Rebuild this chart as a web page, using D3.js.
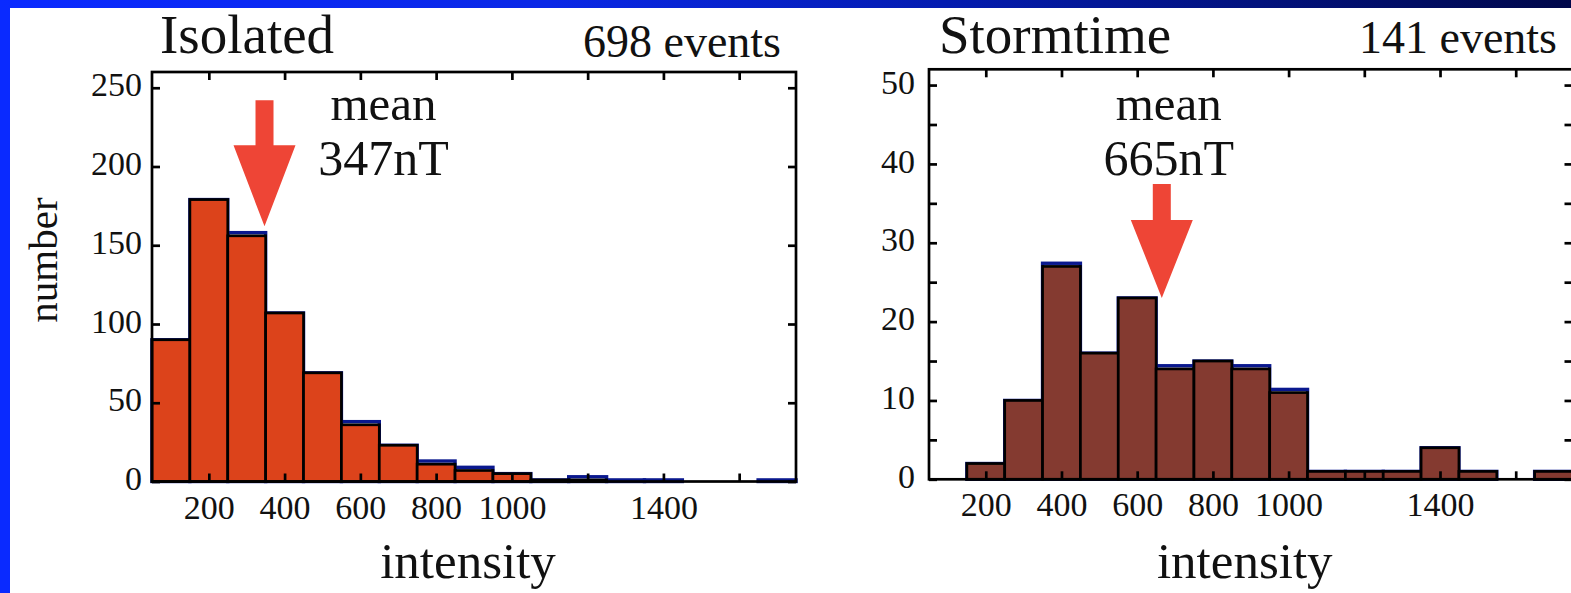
<!DOCTYPE html>
<html>
<head>
<meta charset="utf-8">
<script src="https://cdn.jsdelivr.net/npm/d3@7/dist/d3.min.js"></script>
<style>
  html, body { margin: 0; padding: 0; overflow: hidden; background: #ffffff; }
  svg { display: block; }
</style>
</head>
<body>
<script>
// Histogram bins: 100 nT wide, starting at 50 nT
const binStarts = [50, 150, 250, 350, 450, 550, 650, 750, 850, 950, 1050, 1150, 1250, 1350, 1450, 1550, 1650];
const binWidth = 100;
const xDomain = [50, 1750];

// Isolated substorms (698 events)
const isolatedCounts = [90, 179, 156, 107, 69, 36, 23, 11, 7, 5, 1, 1, 0, 0, 0, 0, 0];
const isolatedTotals = [90, 179, 158, 107, 69, 38, 23, 13, 9, 5, 1, 3, 1, 1, 0, 0, 1];

// Stormtime substorms (141 events)
const stormCounts = [0, 2, 10, 27, 16, 23, 14, 15, 14, 11, 1, 1, 1, 4, 1, 0, 1];
const stormTotals = [0, 2, 10, 27.4, 16, 23, 14.4, 15, 14.4, 11.4, 1, 1, 1, 4, 1, 0, 1];

// Axis ticks
const xTickValues = [200, 400, 600, 800, 1000, 1200, 1400, 1600];
const xTickLabels = ["200", "400", "600", "800", "1000", "", "1400", ""];
const isolatedYTicks = [0, 50, 100, 150, 200, 250];
const isolatedYLabels = ["0", "50", "100", "150", "200", "250"];
const stormYTicks = [0, 5, 10, 15, 20, 25, 30, 35, 40, 45, 50];
const stormYLabels = ["0", "", "10", "", "20", "", "30", "", "40", "", "50"];

// Means
const isolatedMean = 347;
const stormMean = 665;

const W = 1571, H = 593;
const SERIF = "'Liberation Serif', 'Times New Roman', serif";
const NAVY = "#0a188e";
const ARROW = "#ee4536";
const INK = "#111111";

const svg = d3.select("body").append("svg")
  .attr("width", W).attr("height", H);

// Slide frame: blue border with a darkening band along the top
const defs = svg.append("defs");
const grad = defs.append("linearGradient").attr("id", "band")
  .attr("x1", 0).attr("x2", 1).attr("y1", 0).attr("y2", 0);
grad.append("stop").attr("offset", 0).attr("stop-color", "#0a2aff");
grad.append("stop").attr("offset", 0.35).attr("stop-color", "#0a28e6");
grad.append("stop").attr("offset", 0.6).attr("stop-color", "#041cb0");
grad.append("stop").attr("offset", 1).attr("stop-color", "#00084a");

svg.append("rect").attr("width", W).attr("height", H).attr("fill", "#0a2aff");
svg.append("rect").attr("width", W).attr("height", 8).attr("fill", "url(#band)");
svg.append("rect").attr("x", 10).attr("y", 8).attr("width", W - 10).attr("height", H - 8).attr("fill", "#ffffff");

const panels = [
  {
    title: "Isolated", events: "698 events",
    counts: isolatedCounts, totals: isolatedTotals, color: "#dc431b",
    left: 152, right: 796, top: 72, bottom: 481.5, yMax: 260,
    yTicks: isolatedYTicks, yLabels: isolatedYLabels, yPad: 10,
    titleX: 160, titleY: 53, eventsX: 781, eventsY: 57,
    mean: isolatedMean, tipValue: 162, headLen: 81, shaftLen: 45, meanLabelDx: 119,
    showYLabel: true
  },
  {
    title: "Stormtime", events: "141 events",
    counts: stormCounts, totals: stormTotals, color: "#843a30",
    left: 929, right: 1572.5, top: 69.3, bottom: 479.3, yMax: 52,
    yTicks: stormYTicks, yLabels: stormYLabels, yPad: 14,
    titleX: 939, titleY: 53, eventsX: 1557, eventsY: 53,
    mean: stormMean, tipValue: 23, headLen: 78, shaftLen: 36, meanLabelDx: 7,
    showYLabel: false
  }
];

panels.forEach(drawPanel);

function drawPanel(p) {
  const x = d3.scaleLinear().domain(xDomain).range([p.left, p.right]);
  const y = d3.scaleLinear().domain([0, p.yMax]).range([p.bottom, p.top]);
  const g = svg.append("g");

  const totals = binStarts.map((b, i) => ({ b, v: p.totals[i] })).filter(d => d.v > 0);
  const counts = binStarts.map((b, i) => ({ b, v: p.counts[i] })).filter(d => d.v > 0);

  // All events: navy step outline
  g.append("g").selectAll("rect").data(totals).join("rect")
    .attr("x", d => x(d.b))
    .attr("width", d => x(d.b + binWidth) - x(d.b))
    .attr("y", d => y(d.v))
    .attr("height", d => y(0) - y(d.v))
    .attr("fill", "none")
    .attr("stroke", NAVY)
    .attr("stroke-width", 3.4);

  // Selected events: filled bars with black outline
  g.append("g").selectAll("rect").data(counts).join("rect")
    .attr("x", d => x(d.b))
    .attr("width", d => x(d.b + binWidth) - x(d.b))
    .attr("y", d => y(d.v))
    .attr("height", d => y(0) - y(d.v))
    .attr("fill", p.color)
    .attr("stroke", "#000")
    .attr("stroke-width", 2.7);

  // Plot frame
  g.append("rect")
    .attr("x", p.left).attr("y", p.top)
    .attr("width", p.right - p.left).attr("height", p.bottom - p.top)
    .attr("fill", "none").attr("stroke", "#000").attr("stroke-width", 2.7);

  const styleAxis = sel => {
    sel.attr("font-family", SERIF).attr("font-size", 34).attr("color", "#000");
    sel.select(".domain").remove();
    sel.selectAll("line").attr("stroke-width", 2.7);
    sel.selectAll("text").attr("fill", INK);
  };

  g.append("g").attr("transform", `translate(0,${p.bottom})`)
    .call(d3.axisBottom(x).tickValues(xTickValues)
      .tickFormat((d, i) => xTickLabels[i])
      .tickSizeInner(-8).tickSizeOuter(0).tickPadding(13))
    .call(styleAxis);

  g.append("g").attr("transform", `translate(0,${p.top})`)
    .call(d3.axisTop(x).tickValues(xTickValues).tickFormat("")
      .tickSizeInner(-8).tickSizeOuter(0))
    .call(styleAxis);

  g.append("g").attr("transform", `translate(${p.left},0)`)
    .call(d3.axisLeft(y).tickValues(p.yTicks)
      .tickFormat((d, i) => p.yLabels[i])
      .tickSizeInner(-8).tickSizeOuter(0).tickPadding(p.yPad))
    .call(styleAxis)
    .call(s => s.selectAll("text").attr("dy", "0.24em"));

  g.append("g").attr("transform", `translate(${p.right},0)`)
    .call(d3.axisRight(y).tickValues(p.yTicks).tickFormat("")
      .tickSizeInner(-8).tickSizeOuter(0))
    .call(styleAxis);

  // Titles
  g.append("text").attr("x", p.titleX).attr("y", p.titleY)
    .attr("font-family", SERIF).attr("font-size", 55).attr("fill", INK)
    .text(p.title);
  g.append("text").attr("x", p.eventsX).attr("y", p.eventsY)
    .attr("text-anchor", "end")
    .attr("font-family", SERIF).attr("font-size", 46).attr("fill", INK)
    .text(p.events);

  // Axis labels
  g.append("text").attr("x", (p.left + p.right) / 2 - 6).attr("y", 578)
    .attr("text-anchor", "middle")
    .attr("font-family", SERIF).attr("font-size", 51).attr("fill", INK)
    .text("intensity");
  if (p.showYLabel) {
    g.append("text").attr("transform", "translate(57,260) rotate(-90)")
      .attr("text-anchor", "middle")
      .attr("font-family", SERIF).attr("font-size", 41).attr("fill", INK)
      .text("number");
  }

  // Mean arrow, pointing down at the mean intensity
  const cx = x(p.mean);
  const tipY = y(p.tipValue);
  const headTop = tipY - p.headLen;
  const shaftTop = headTop - p.shaftLen;
  const arrow = d3.path();
  arrow.moveTo(cx - 9, shaftTop);
  arrow.lineTo(cx + 9, shaftTop);
  arrow.lineTo(cx + 9, headTop);
  arrow.lineTo(cx + 31, headTop);
  arrow.lineTo(cx, tipY);
  arrow.lineTo(cx - 31, headTop);
  arrow.lineTo(cx - 9, headTop);
  arrow.closePath();
  g.append("path").attr("d", arrow.toString()).attr("fill", ARROW);

  // Mean label
  const lx = cx + p.meanLabelDx;
  g.append("text").attr("x", lx).attr("y", 120)
    .attr("text-anchor", "middle")
    .attr("font-family", SERIF).attr("font-size", 49).attr("fill", INK)
    .text("mean");
  g.append("text").attr("x", lx).attr("y", 175)
    .attr("text-anchor", "middle")
    .attr("font-family", SERIF).attr("font-size", 50).attr("fill", INK)
    .text(p.mean + "nT");
}
</script>
</body>
</html>
